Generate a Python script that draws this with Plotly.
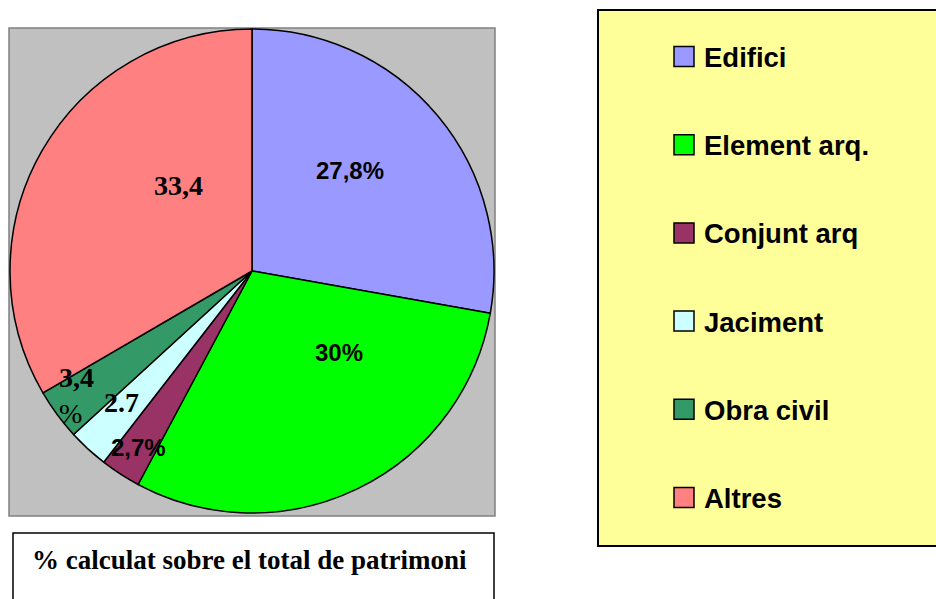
import math
import plotly.graph_objects as go

# ---- data ----
categories = ["Edifici", "Element arq.", "Conjunt arq", "Jaciment", "Obra civil", "Altres"]
values = [27.8, 30.0, 2.7, 2.7, 3.4, 33.4]
slice_labels = ["27,8%", "30%", "2,7%", "2.7", "<b>3,4</b><br>%", "33,4"]
caption = "% calculat sobre el total de patrimoni"

# ---- styles ----
colors = ["#9999FF", "#00FF00", "#993366", "#CCFFFF", "#339966", "#FF8080"]
W, H = 936, 599
CX, CY, R = 252, 271, 242  # pie centre / radius in px

SANS = "Liberation Sans, Arial, sans-serif"
SERIF = "Liberation Serif, Times New Roman, serif"
label_fonts = [SANS, SANS, SANS, SERIF, SERIF, SERIF]
label_sizes = [24, 24, 24, 28, 28, 28]
# label placement (angle clockwise from 12 o'clock in degrees, radius fraction)
label_polar = [(44.1, 0.581), (133.0, 0.491), (212.6, 0.868), (224.8, 0.763), (237.5, 0.955), (319.0, 0.466)]
label_xanchor = ["center", "center", "center", "center", "left", "center"]


def px(x):
    return x / W


def py(y):
    return 1 - y / H


fig = go.Figure()

fig.add_trace(go.Pie(
    labels=categories,
    values=values,
    sort=False,
    direction="clockwise",
    rotation=0,
    marker=dict(colors=colors, line=dict(color="black", width=1.5)),
    textinfo="none",
    hoverinfo="label+percent",
    showlegend=False,
    domain=dict(x=[px(CX - R), px(CX + R)], y=[py(CY + R), py(CY - R)]),
))

shapes = []
annotations = []

# grey plot area
shapes.append(dict(type="rect", xref="paper", yref="paper", layer="below",
                   x0=px(9), x1=px(495), y0=py(516), y1=py(28),
                   fillcolor="#C0C0C0", line=dict(color="#808080", width=1.5)))

# slice labels
for i, txt in enumerate(slice_labels):
    ang, rf = label_polar[i]
    a = math.radians(ang)
    x = CX + rf * R * math.sin(a)
    y = CY - rf * R * math.cos(a)
    t = txt if "<b>" in txt else "<b>" + txt + "</b>"
    annotations.append(dict(x=px(x), y=py(y), xref="paper", yref="paper",
                            text=t, showarrow=False, xanchor=label_xanchor[i], yanchor="middle",
                            align="left",
                            font=dict(family=label_fonts[i], size=label_sizes[i], color="black")))

# legend box
shapes.append(dict(type="rect", xref="paper", yref="paper",
                   x0=px(598), x1=px(945), y0=py(546), y1=py(10),
                   fillcolor="#FFFF99", line=dict(color="black", width=2)))
for i, name in enumerate(categories):
    yc = 56.5 + i * 88.2
    shapes.append(dict(type="rect", xref="paper", yref="paper",
                       x0=px(674), x1=px(694), y0=py(yc + 10), y1=py(yc - 10),
                       fillcolor=colors[i], line=dict(color="black", width=1.5)))
    annotations.append(dict(x=px(702), y=py(yc + 1), xref="paper", yref="paper",
                            text="<b>" + name + "</b>", showarrow=False,
                            xanchor="left", yanchor="middle",
                            font=dict(family=SANS, size=27.5, color="black")))

# caption box
shapes.append(dict(type="rect", xref="paper", yref="paper",
                   x0=px(13), x1=px(494), y0=py(610), y1=py(533),
                   fillcolor="white", line=dict(color="black", width=1.5)))
annotations.append(dict(x=px(249), y=py(560), xref="paper", yref="paper",
                        text="<b>" + caption + "</b>", showarrow=False,
                        xanchor="center", yanchor="middle",
                        font=dict(family=SERIF, size=27, color="black")))

fig.update_layout(
    width=W, height=H,
    margin=dict(l=0, r=0, t=0, b=0),
    paper_bgcolor="white",
    plot_bgcolor="white",
    shapes=shapes,
    annotations=annotations,
)

fig.write_html(
    "out.html",
    config={"displayModeBar": False},
    post_script="document.body.style.margin='0';document.body.style.overflow='hidden';",
)
